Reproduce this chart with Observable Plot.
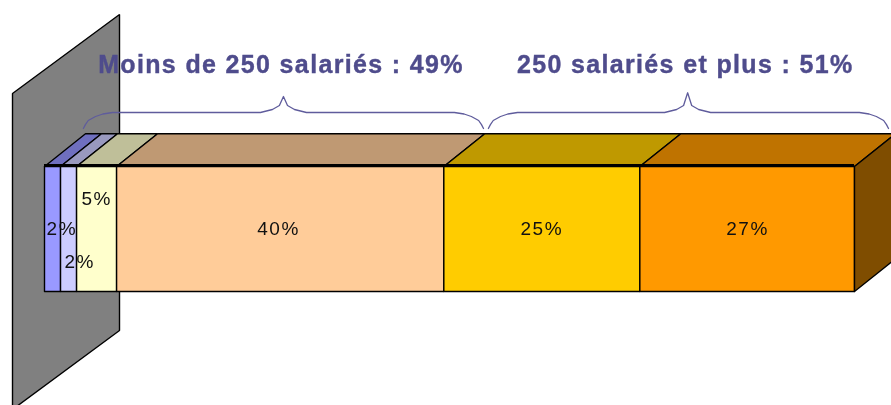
<!DOCTYPE html>
<html lang="fr">
<head>
<meta charset="utf-8">
<script src="https://cdn.jsdelivr.net/npm/d3@7"></script>
<script src="https://cdn.jsdelivr.net/npm/@observablehq/plot@0.6"></script>
<style>
html,body{margin:0;padding:0;background:#fff}
svg{display:block;overflow:hidden;filter:blur(.45px)}
.share-label text{letter-spacing:1.6px}
.group-label text{letter-spacing:1.35px;stroke:#4f4c8c;stroke-width:.4px}
</style>
</head>
<body>
<div id="chart"></div>
<script>
// Shares (drawn widths) and their printed labels
const shares = [1.98, 1.98, 4.94, 40.4, 24.2, 26.5];
const labels = ["2%", "2%", "5%", "40%", "25%", "27%"];
const labelX = [2.15, 4.35, 6.45, 28.9, 61.4, 86.8];
const labelY = [0.5, 0.24, 0.74, 0.5, 0.5, 0.5];
const frontColors = ["#9999ff", "#ccccff", "#ffffcc", "#ffcc99", "#ffcc00", "#ff9900"];
const topColors = ["#6f6fbf", "#9999bf", "#bfbf99", "#bf9973", "#bf9900", "#bf7300"];
const sideColor = "#7f4d00";
const wallColor = "#808080";
const groupLabels = ["Moins de 250 salariés : 49%", "250 salariés et plus : 51%"];
const groupLabelX = [29.2, 79.1];
const braceSpans = [[4.8, 54.2, 29.5], [54.8, 104.2, 79.4]];

const depthX = 5.06, depthY = 0.262;       // oblique 3D offset, in scale units
const wallX = [-3.95, 9.26], wallTop = 1.584, wallBottom = -0.944;

const edges = d3.cumsum([0, ...shares]);
const polys = [];
const poly = (id, fill, pts) => pts.concat([pts[0]]).forEach(([x, y]) => polys.push({id, fill, x, y}));

poly("wall", wallColor, [[wallX[0], wallBottom], [wallX[0], wallTop], [wallX[1], wallTop + 0.632], [wallX[1], wallBottom + 0.632]]);
shares.forEach((_, i) => {
  const a = edges[i], b = edges[i + 1];
  poly("top" + i, topColors[i], [[a, 1], [a + depthX, 1 + depthY], [b + depthX, 1 + depthY], [b, 1]]);
  poly("front" + i, frontColors[i], [[a, 0], [a, 1], [b, 1], [b, 0]]);
});
const end = edges[edges.length - 1];
poly("side", sideColor, [[end, 0], [end, 1], [end + depthX, 1 + depthY], [end + depthX, depthY]]);

// Curly braces above the bar
const braceBase = 1.432, braceEnd = 1.304;
const braces = [];
braceSpans.forEach(([a, b, m], k) => {
  const h = k === 0 ? 1.56 : 1.59;
  [[a, braceEnd], [a + .25, 1.335], [a + .6, 1.368], [a + 1.5, 1.4], [a + 2.4, 1.42], [a + 3.6, braceBase],
   [m - 2.84, braceBase], [m - 1.36, 1.456], [m - .5, 1.488], [m, h], [m + .5, 1.488], [m + 1.36, 1.456], [m + 2.84, braceBase],
   [b - 3.6, braceBase], [b - 2.4, 1.42], [b - 1.5, 1.4], [b - .6, 1.368], [b - .25, 1.335], [b, braceEnd]]
    .forEach(([x, y]) => braces.push({k, x, y}));
});

const plot = Plot.plot({
  width: 891,
  height: 405,
  margin: 0,
  x: {domain: [0, 100], range: [44, 854], axis: null},
  y: {domain: [0, 1], range: [291, 166], axis: null},
  color: {type: "identity"},
  style: {background: "#fff"},
  marks: [
    Plot.line(polys, {x: "x", y: "y", z: "id", fill: "fill", stroke: "#000", strokeWidth: 1.4, curve: "linear", strokeLinejoin: "miter"}),
    Plot.ruleY([1], {x1: 0, x2: 100, stroke: "#000", strokeWidth: 3.2, dy: -1}),
    Plot.line(braces, {x: "x", y: "y", z: "k", stroke: "#5f5c9c", strokeWidth: 1.3, curve: "linear"}),
    Plot.text(labels, {x: (_, i) => labelX[i], y: (_, i) => labelY[i], text: d => d, fontSize: 19, fontFamily: "Liberation Sans", fill: "#111", className: "share-label"}),
    Plot.text(groupLabels, {x: (_, i) => groupLabelX[i], y: 1.815, text: d => d, fontSize: 25, fontWeight: "bold", fontFamily: "Liberation Sans", fill: "#4f4c8c", className: "group-label"})
  ]
});
document.getElementById("chart").append(plot);
</script>
</body>
</html>
